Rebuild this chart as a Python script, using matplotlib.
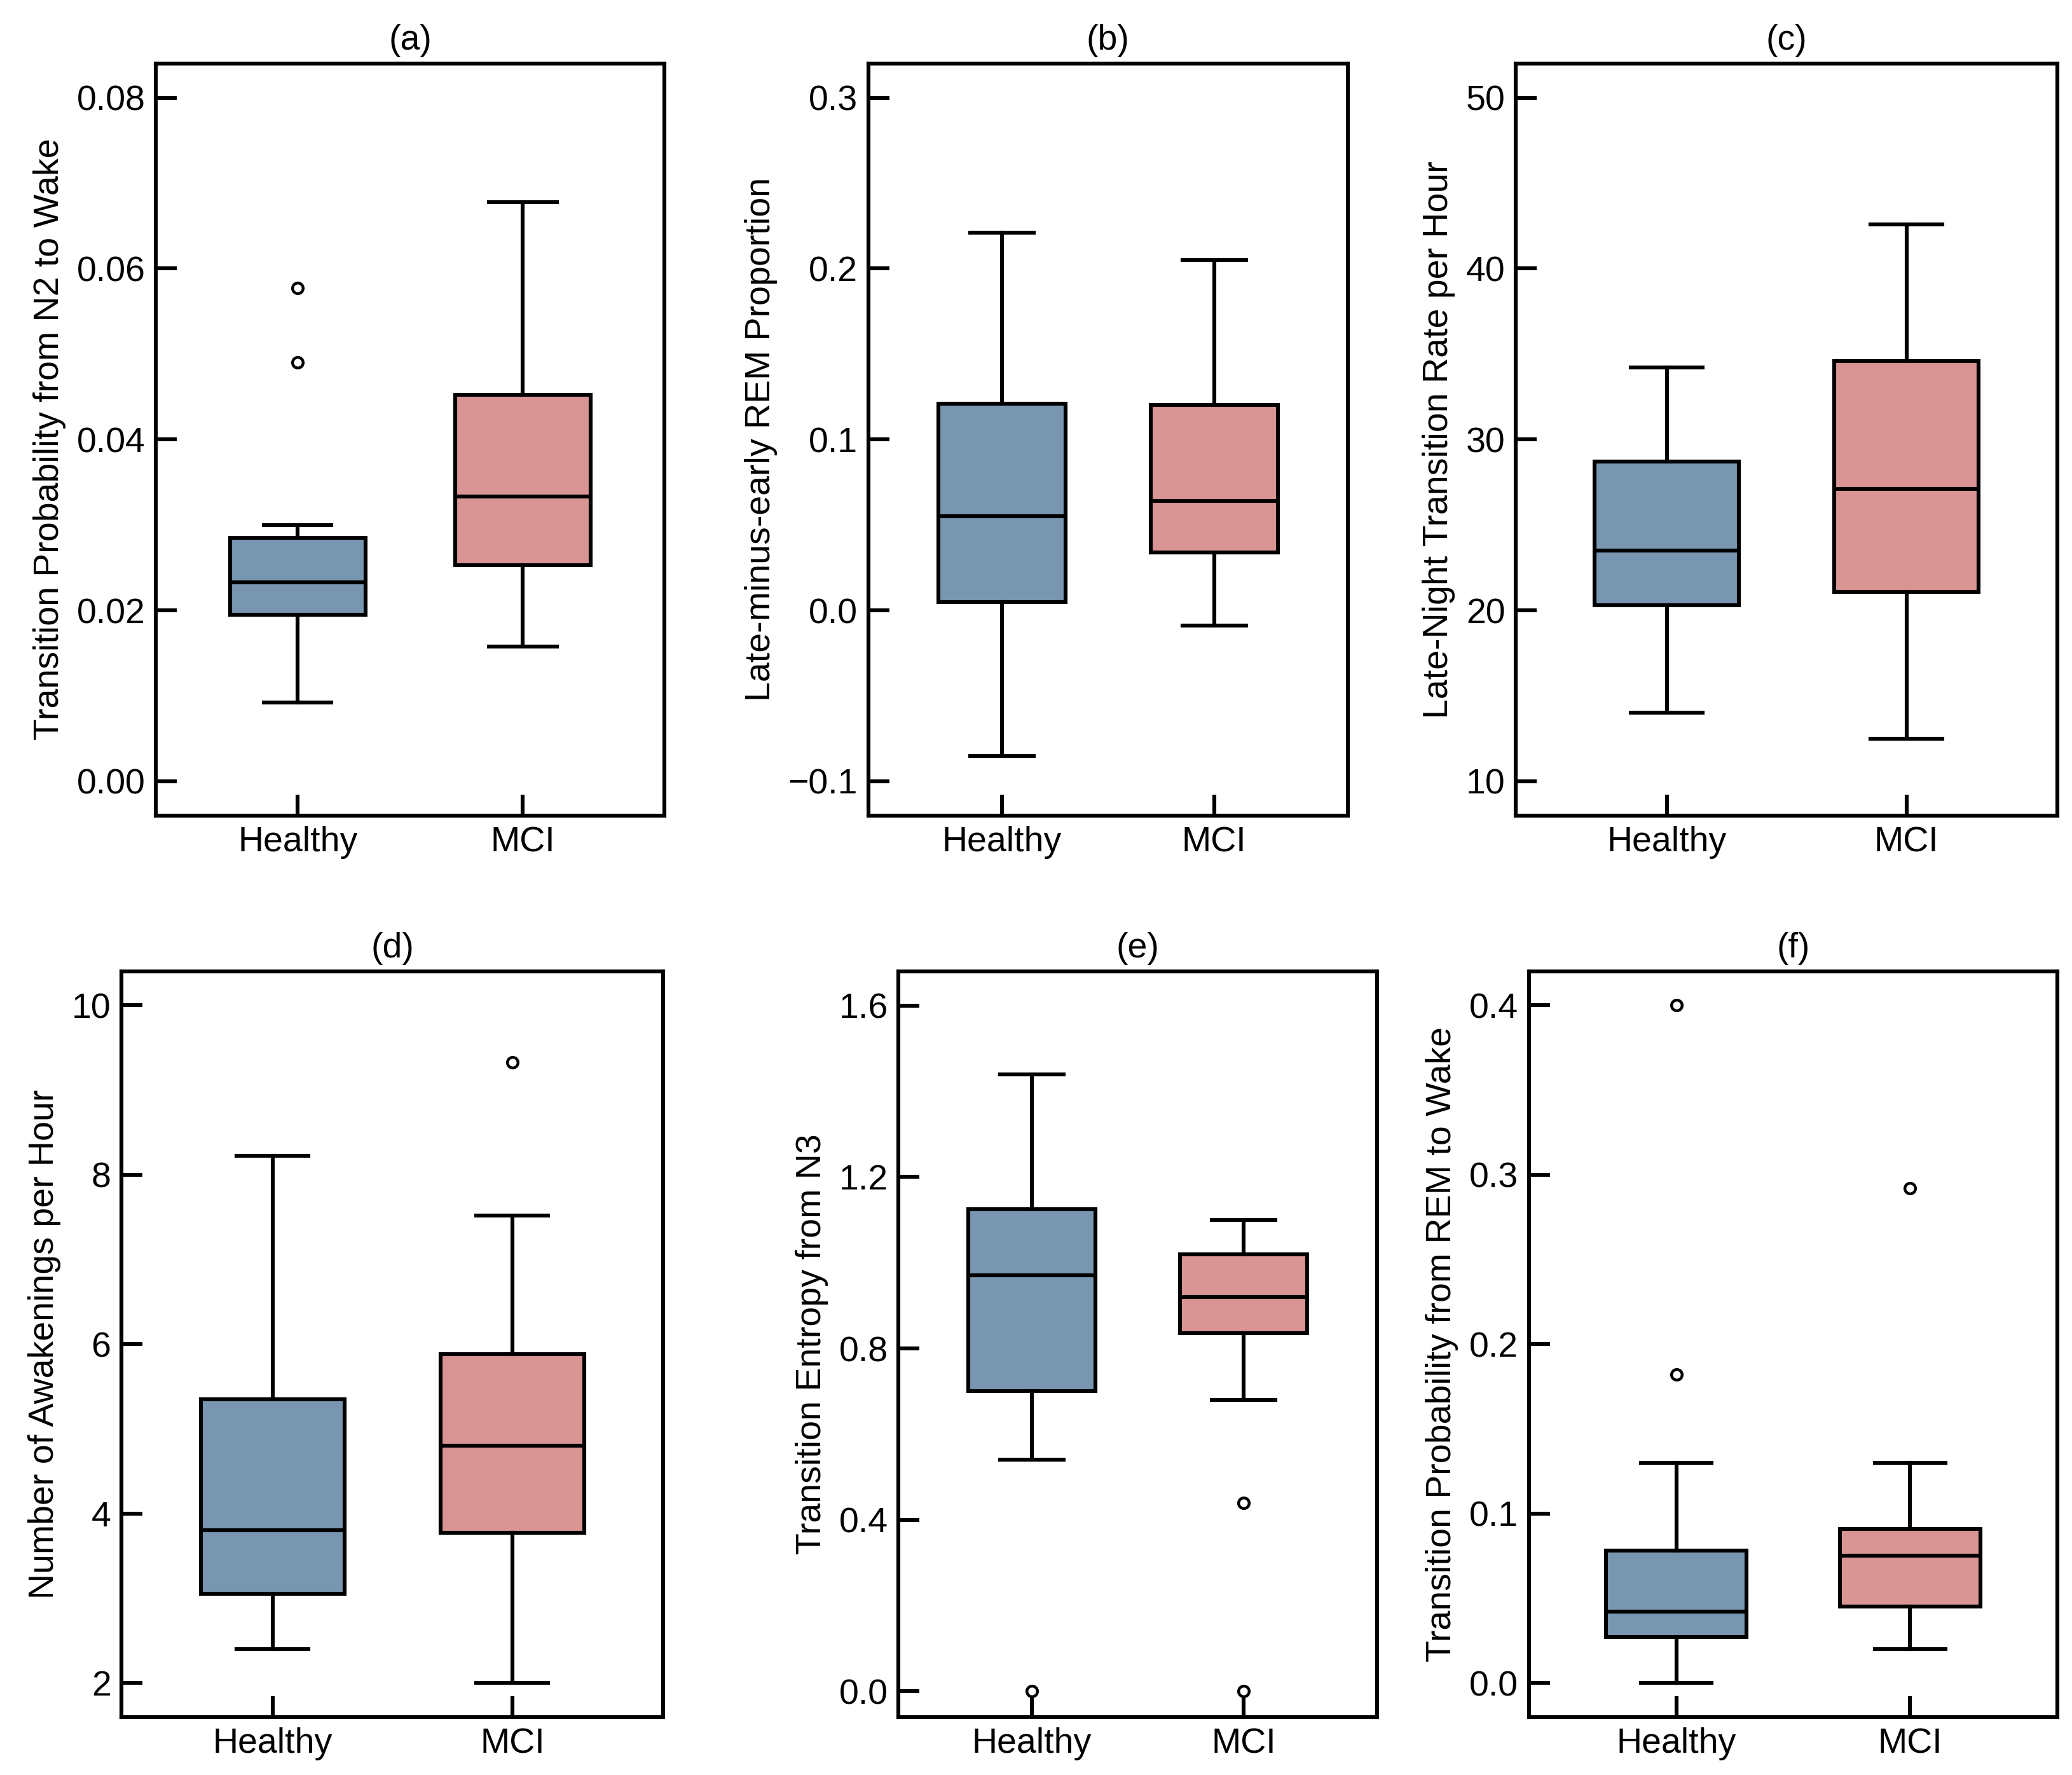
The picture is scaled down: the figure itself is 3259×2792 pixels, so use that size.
import matplotlib
matplotlib.use("Agg")
import matplotlib.pyplot as plt

plt.rcParams['font.family'] = ['Liberation Sans', 'DejaVu Sans']

groups = ["Healthy", "MCI"]
titles = ["(a)", "(b)", "(c)", "(d)", "(e)", "(f)"]
ylabels = ["Transition Probability from N2 to Wake", "Late-minus-early REM Proportion",
           "Late-Night Transition Rate per Hour", "Number of Awakenings per Hour",
           "Transition Entropy from N3", "Transition Probability from REM to Wake"]
# (q1, med, q3, whislo, whishi, fliers) per group
stats_a = [(0.0195, 0.0233, 0.0285, 0.0092, 0.030, [0.049, 0.0577]),
           (0.0253, 0.0333, 0.0452, 0.0158, 0.0678, [])]
stats_b = [(0.005, 0.055, 0.121, -0.085, 0.221, []),
           (0.034, 0.064, 0.120, -0.009, 0.205, [])]
stats_c = [(20.3, 23.5, 28.7, 14.0, 34.2, []),
           (21.1, 27.1, 34.6, 12.5, 42.6, [])]
stats_d = [(3.05, 3.8, 5.35, 2.4, 8.22, []),
           (3.77, 4.8, 5.88, 2.0, 7.52, [9.33])]
stats_e = [(0.70, 0.97, 1.125, 0.54, 1.44, [0.0]),
           (0.835, 0.92, 1.02, 0.68, 1.10, [0.44, 0.0])]
stats_f = [(0.027, 0.042, 0.078, 0.0, 0.13, [0.182, 0.40]),
           (0.045, 0.075, 0.091, 0.02, 0.13, [0.292])]
all_stats = [stats_a, stats_b, stats_c, stats_d, stats_e, stats_f]
ylims = [(-0.004, 0.084), (-0.12, 0.32), (8, 52), (1.6, 10.4), (-0.06, 1.68), (-0.02, 0.42)]
yticks = [[0, 0.02, 0.04, 0.06, 0.08], [-0.1, 0, 0.1, 0.2, 0.3], [10, 20, 30, 40, 50],
          [2, 4, 6, 8, 10], [0, 0.4, 0.8, 1.2, 1.6], [0, 0.1, 0.2, 0.3, 0.4]]
ytl = [["0.00", "0.02", "0.04", "0.06", "0.08"], ["\u22120.1", "0.0", "0.1", "0.2", "0.3"],
       ["10", "20", "30", "40", "50"], ["2", "4", "6", "8", "10"],
       ["0.0", "0.4", "0.8", "1.2", "1.6"], ["0.0", "0.1", "0.2", "0.3", "0.4"]]
colors = ["#7896AF", "#D99594"]

W, H = 1568, 1343
xs = [(118, 503), (657, 1020), (1147, 1557), (92, 502), (680, 1042), (1157, 1557)]
ys = [(48, 617)] * 3 + [(735, 1299)] * 3

fig = plt.figure(figsize=(16.295, 13.96), dpi=200)
lw = 2.2
fs = 20
for i in range(6):
    x0, x1 = xs[i]; y0, y1 = ys[i]
    ax = fig.add_axes([x0 / W, 1 - y1 / H, (x1 - x0) / W, (y1 - y0) / H])
    bx = []
    for g, s in zip(groups, all_stats[i]):
        bx.append(dict(q1=s[0], med=s[1], q3=s[2], whislo=s[3], whishi=s[4], fliers=s[5], label=g))
    b = ax.bxp(bx, positions=[0, 1], widths=0.6, patch_artist=True,
               boxprops=dict(linewidth=lw, edgecolor='black'),
               medianprops=dict(color='black', linewidth=lw),
               whiskerprops=dict(linewidth=lw), capprops=dict(linewidth=lw),
               flierprops=dict(marker='o', markersize=6, markerfacecolor='white',
                               markeredgecolor='black', markeredgewidth=1.6))
    for p, c in zip(b['boxes'], colors):
        p.set_facecolor(c)
    ax.set_xlim(-0.63, 1.63)
    ax.set_ylim(*ylims[i])
    ax.set_yticks(yticks[i]); ax.set_yticklabels(ytl[i])
    ax.set_xticks([0, 1]); ax.set_xticklabels(groups)
    ax.tick_params(direction='in', length=12, width=lw, labelsize=fs, pad=6)
    for sp in ax.spines.values():
        sp.set_linewidth(lw)
    ax.set_title(titles[i], fontsize=fs, pad=8)
    ax.set_ylabel(ylabels[i], fontsize=fs, labelpad=6)

fig.savefig("out.png", dpi=200)
